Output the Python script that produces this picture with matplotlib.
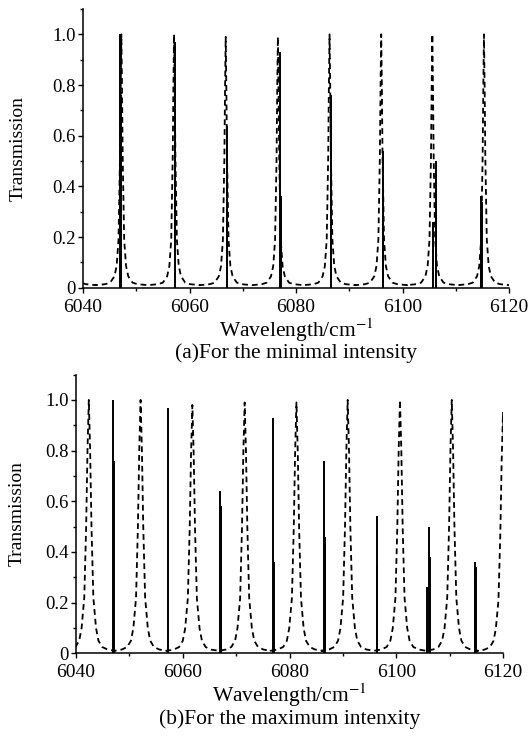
import numpy as np
import matplotlib
matplotlib.use("Agg")
import matplotlib.pyplot as plt
from matplotlib.ticker import MultipleLocator

plt.rcParams['font.family'] = ['Liberation Serif', 'DejaVu Serif']
plt.rcParams['mathtext.fontset'] = 'stix'

# absorption lines (same in both panels): position / cm-1, height
line_pos = [6047.0, 6047.1, 6057.2, 6067.0, 6067.1, 6077.0, 6077.1,
            6086.5, 6086.6, 6096.3, 6096.4, 6105.7, 6106.2, 6106.3,
            6114.7, 6114.8, 6114.9]
line_height = [1.00, 0.76, 0.97, 0.64, 0.58, 0.93, 0.36,
               0.76, 0.46, 0.54, 0.34, 0.26, 0.50, 0.38,
               0.29, 0.36, 0.34]

# etalon transmission peaks, panel (a)
peaks_a = [6037.5, 6047.2, 6057.1, 6066.8, 6076.6, 6086.3, 6096.0, 6105.6, 6115.3]
peak_h_a = [1.0, 1.0, 1.0, 0.99, 0.99, 1.0, 1.0, 1.0, 1.0]
prof_off_a = [0, 0.12, 0.25, 0.53, 0.88, 1.3, 2.1, 3.0, 4.86]
prof_val_a = [1.0, 0.8, 0.52, 0.19, 0.086, 0.045, 0.02, 0.014, 0.01]

# etalon transmission peaks, panel (b)
peaks_b = [6032.7, 6042.4, 6052.1, 6061.8, 6071.6, 6081.3, 6090.9, 6100.7, 6110.4, 6120.0]
peak_h_b = [1.0, 1.0, 1.0, 0.98, 0.99, 0.99, 1.0, 1.0, 1.0, 0.95]
prof_off_b = [0, 0.25, 0.5, 0.85, 1.35, 1.8, 2.5, 3.5, 4.86]
prof_val_b = [1.0, 0.8, 0.5, 0.22, 0.1, 0.05, 0.025, 0.015, 0.01]

xticks = [6040, 6060, 6080, 6100, 6120]
yticks = [0, 0.2, 0.4, 0.6, 0.8, 1.0]
ytick_labels = ['0', '0.2', '0.4', '0.6', '0.8', '1.0']


def etalon_curve(centers, heights, off, val):
    off = np.array(off)
    val = np.array(val)
    rel_x = np.concatenate([-off[::-1], off[1:]])
    rel_y = np.concatenate([val[::-1], val[1:]])
    xs, ys = [], []
    for c, h in zip(centers, heights):
        xs.append(c + rel_x)
        ys.append(h * rel_y)
    return np.concatenate(xs), np.concatenate(ys)


def panel(ax, centers, heights, off, val, caption, ylab_x):
    x, y = etalon_curve(centers, heights, off, val)
    ax.plot(x, y, color='black', lw=1.3, ls=(0, (3.2, 2.2)))
    ax.vlines(line_pos, 0, line_height, color='black', lw=1.4)
    ax.set_xlim(6040, 6120)
    ax.set_ylim(0, 1.1)
    ax.set_xticks(xticks)
    ax.set_yticks(yticks)
    ax.set_yticklabels(ytick_labels)
    ax.xaxis.set_minor_locator(MultipleLocator(10))
    ax.yaxis.set_minor_locator(MultipleLocator(0.1))
    ax.tick_params(which='both', direction='out', width=1)
    ax.tick_params(axis='x', which='major', length=3.5, pad=4.5, labelsize=14)
    ax.tick_params(axis='y', which='major', length=3.5, pad=1.5, labelsize=13.5)
    ax.tick_params(which='minor', length=2.5)
    for s in ['top', 'right']:
        ax.spines[s].set_visible(False)
    for s in ['left', 'bottom']:
        ax.spines[s].set_linewidth(1.1)
    ax.set_ylabel('Transmission', fontsize=14)
    ax.yaxis.label.set_va('center')
    ax.yaxis.set_label_coords(ylab_x, 0.5)
    ax.set_xlabel(r'Wavelength/cm$^{-1}$', fontsize=15.5)
    ax.xaxis.label.set_va('baseline')
    ax.xaxis.set_label_coords(0.5, -0.176)
    ax.text(0.5, -0.254, caption, transform=ax.transAxes, ha='center',
            va='baseline', fontsize=15.5)


fig = plt.figure(figsize=(5.3, 7.36), dpi=100)
ax1 = fig.add_axes([83 / 530, 1 - 287.7 / 736, 426 / 530, 278.7 / 736])
ax2 = fig.add_axes([76 / 530, 1 - 653.3 / 736, 427 / 530, 278.7 / 736])

panel(ax1, peaks_a, peak_h_a, prof_off_a, prof_val_a,
      '(a)For the minimal intensity', -0.153)
panel(ax2, peaks_b, peak_h_b, prof_off_b, prof_val_b,
      '(b)For the maximum intenxity', -0.138)

fig.savefig('out.png', dpi=100)
